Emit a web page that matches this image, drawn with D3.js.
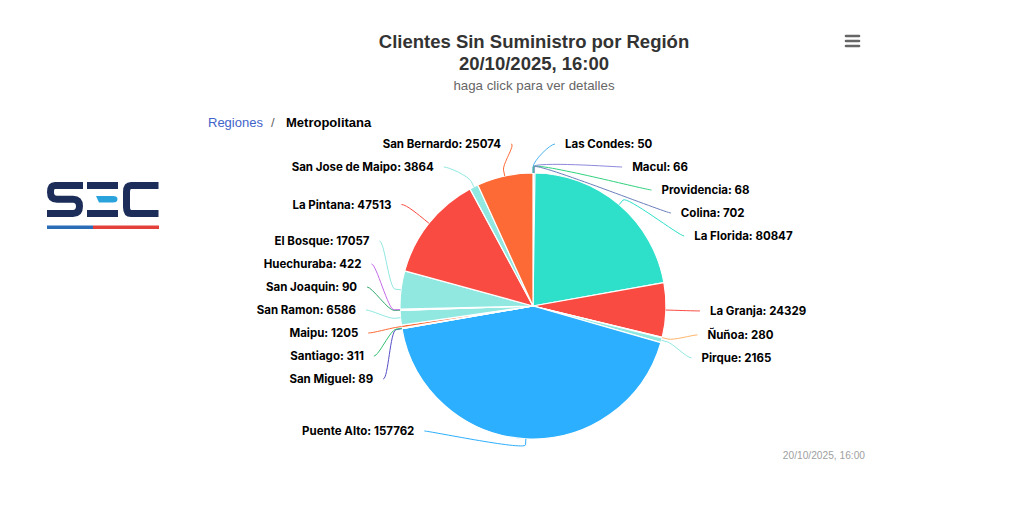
<!DOCTYPE html>
<html><head><meta charset="utf-8">
<script src="https://cdn.jsdelivr.net/npm/d3@7"></script>
<style>
html,body{margin:0;padding:0;background:#fff;}
svg{display:block;font-family:"Liberation Sans",Helvetica,Arial,sans-serif;}
</style></head>
<body>
<svg id="chart" width="1024" height="512"></svg>
<script>
// ---- data ----
const categories = ["Las Condes","Macul","Providencia","Colina","La Florida","La Granja","Ñuñoa","Pirque","Puente Alto","San Miguel","Santiago","Maipu","San Ramon","San Joaquin","Huechuraba","El Bosque","La Pintana","San Jose de Maipo","San Bernardo"];
const values = [50,66,68,702,80847,24329,280,2165,157762,89,311,1205,6586,90,422,17057,47513,3864,25074];
const colors = ["#4db3f0","#8d89dc","#2fd27e","#6b7fbc","#2ee0ca","#fa4b42","#feb56a","#91e8e1","#2caffe","#544fc5","#2fbf6e","#fe6a35","#91e8e1","#34a96c","#c46ae8","#91e8e1","#fa4b42","#91e8e1","#fe6a35"];
const titleLines = ["Clientes Sin Suministro por Región","20/10/2025, 16:00"];
const subtitle = "haga click para ver detalles";
const crumbs = ["Regiones","Metropolitana"];
const credit = "20/10/2025, 16:00";

const svg = d3.select("#chart");

// ---- titles ----
svg.selectAll("text.title").data(titleLines).join("text")
  .attr("class","title").attr("x",534).attr("y",(d,i)=>48+i*21.5)
  .attr("text-anchor","middle").attr("fill","#333333")
  .attr("font-size","18.5px").attr("font-weight","bold").text(d=>d);
svg.append("text").attr("x",534).attr("y",90).attr("text-anchor","middle")
  .attr("fill","#666666").attr("font-size","13.3px").text(subtitle);

// hamburger menu
svg.append("g").attr("stroke","#666").attr("stroke-width",2.6).attr("stroke-linecap","round")
  .selectAll("line").data([36,41,46]).join("line")
  .attr("x1",846).attr("x2",859).attr("y1",d=>d).attr("y2",d=>d);

// breadcrumb
svg.append("text").attr("x",208).attr("y",127).attr("font-size","13px").attr("fill","#3f63c9").text(crumbs[0]);
svg.append("text").attr("x",271).attr("y",127).attr("font-size","13px").attr("fill","#666").text("/");
svg.append("text").attr("x",286).attr("y",127).attr("font-size","13px").attr("font-weight","bold").attr("fill","#000").text(crumbs[1]);

// credit
svg.append("text").attr("x",865).attr("y",459).attr("text-anchor","end").attr("font-size","10.2px").attr("fill","#a0a0a0").text(credit);

// ---- SEC logo ----
const logo = svg.append("g");
const navy = "#1c2d5a";
logo.append("path").attr("d","M83 185.5 H55 Q50.5 185.5 50.5 192.3 Q50.5 199.3 57 199.3 H73 Q79.5 199.3 79.5 206.3 Q79.5 213.5 73 213.5 H47")
  .attr("fill","none").attr("stroke",navy).attr("stroke-width",7);
logo.append("rect").attr("x",87).attr("y",182).attr("width",31).attr("height",7).attr("fill",navy);
logo.append("path").attr("d","M96 196 H113 Q117.5 196 117.5 199 Q117.5 202.5 113 202.5 H99 Z").attr("fill","#2aa3dc");
logo.append("rect").attr("x",87).attr("y",210).attr("width",31).attr("height",7).attr("fill",navy);
logo.append("path").attr("d","M158.5 185.5 H131 Q126.5 185.5 126.5 192 V207 Q126.5 213.5 131 213.5 H158.5")
  .attr("fill","none").attr("stroke",navy).attr("stroke-width",7);
logo.append("rect").attr("x",47).attr("y",225.5).attr("width",46).attr("height",3.5).attr("fill","#2b6cb7");
logo.append("rect").attr("x",93).attr("y",225.5).attr("width",66).attr("height",3.5).attr("fill","#e4403b");

// ---- pie ----
const cx = 533, cy = 306, r = 133, dist = 30, R = r + dist;
const data = categories.map((c,i)=>({name:c, value:values[i], color:colors[i]}));
const arcs = d3.pie().sort(null).value(d=>d.value)(data);
const arcGen = d3.arc().innerRadius(0).outerRadius(r);
const g = svg.append("g").attr("transform",`translate(${cx},${cy})`);
g.selectAll("path.slice").data(arcs).join("path").attr("class","slice")
  .attr("d",arcGen).attr("fill",d=>d.data.color)
  .attr("stroke","#fff").attr("stroke-width",1.2).attr("stroke-linejoin","round");

// ---- label layout (Highcharts-like distribute) ----
const h = 23, minY = 144, maxY = 431;
arcs.forEach(a=>{
  a.mid = (a.startAngle + a.endAngle)/2;
  a.dx = Math.sin(a.mid); a.dy = -Math.cos(a.mid);
  a.right = a.mid < Math.PI;
  a.ny = cy + R*a.dy;
});
function distribute(items){
  items.sort((p,q)=>p.ny-q.ny);
  let blocks = items.map(it=>({items:[it]}));
  const place = b=>{
    const n=b.items.length;
    const t = (d3.min(b.items,d=>d.ny) + d3.max(b.items,d=>d.ny))/2;
    let p = t - (n-1)*h/2;
    p = Math.max(minY, Math.min(p, maxY-(n-1)*h));
    b.pos = p;
  };
  let merged = true;
  while(merged){
    merged=false;
    blocks.forEach(place);
    for(let i=0;i<blocks.length-1;i++){
      const b=blocks[i], c=blocks[i+1];
      if(b.pos + b.items.length*h > c.pos + 0.01){
        b.items = b.items.concat(c.items); blocks.splice(i+1,1); merged=true; break;
      }
    }
  }
  blocks.forEach(b=>b.items.forEach((it,k)=>{it.ly = b.pos + k*h;}));
}
distribute(arcs.filter(a=>a.right));
distribute(arcs.filter(a=>!a.right));
arcs.forEach(a=>{
  const off = Math.sqrt(Math.max(0, R*R - (a.ly-cy)*(a.ly-cy)));
  const s = a.right?1:-1;
  a.tx = cx + s*(off+14);
  a.sx = cx + s*(off+4);
  a.bx = cx + (r+6)*a.dx; a.by = cy + (r+6)*a.dy;
  a.px = cx + r*a.dx; a.py = cy + r*a.dy;
});
svg.append("g").selectAll("path").data(arcs).join("path")
  .attr("fill","none").attr("stroke",d=>d.data.color).attr("stroke-width",1)
  .attr("d",a=>{
    const c1x = a.sx + (a.right?-5:5);
    return `M${a.sx},${a.ly} C${c1x},${a.ly} ${2*a.bx-a.px},${2*a.by-a.py} ${a.bx},${a.by} L${a.px},${a.py}`;
  });
svg.append("g").selectAll("text").data(arcs).join("text")
  .attr("x",a=>a.tx).attr("y",a=>a.ly).attr("dy","0.35em")
  .attr("text-anchor",a=>a.right?"start":"end")
  .attr("font-family","Inter, 'Liberation Sans', sans-serif")
  .attr("font-size","11.5px").attr("font-weight","bold").attr("fill","#000")
  .text(a=>`${a.data.name}: ${a.data.value}`);
</script>
</body></html>
